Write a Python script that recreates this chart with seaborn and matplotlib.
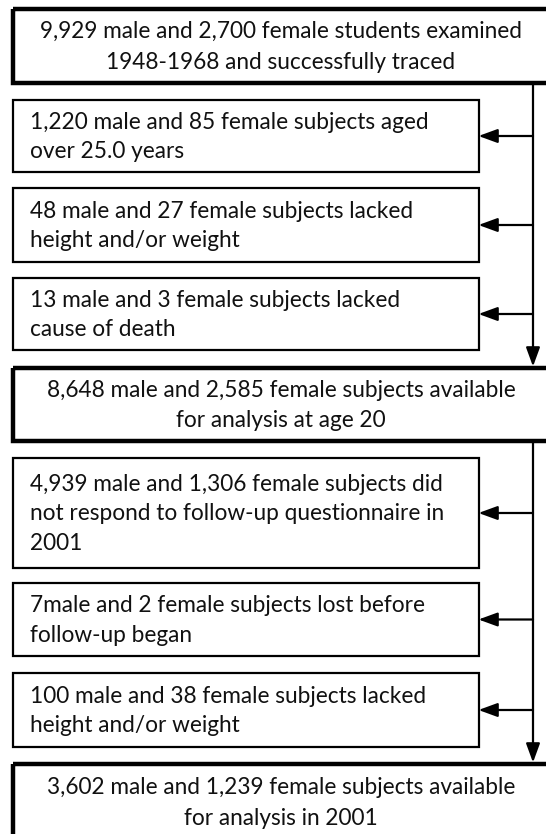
import matplotlib.pyplot as plt
import matplotlib.patches as patches
import seaborn as sns

sns.set_style("white")
plt.rcParams['font.family'] = ['Lato', 'DejaVu Sans']

# flow chart content
main_texts = [
    "9,929 male and 2,700 female students examined\n1948-1968 and successfully traced",
    "8,648 male and 2,585 female subjects available\nfor analysis at age 20",
    "3,602 male and 1,239 female subjects available\nfor analysis in 2001",
]
excl_texts_1 = [
    "1,220 male and 85 female subjects aged\nover 25.0 years",
    "48 male and 27 female subjects lacked\nheight and/or weight",
    "13 male and 3 female subjects lacked\ncause of death",
]
excl_texts_2 = [
    "4,939 male and 1,306 female subjects did\nnot respond to follow-up questionnaire in\n2001",
    "7male and 2 female subjects lost before\nfollow-up began",
    "100 male and 38 female subjects lacked\nheight and/or weight",
]

# layout (pixels, y downward): (top, bottom)
main_rows = [(9, 83), (368, 441), (764, 840)]
excl_rows = [(100, 172), (188, 262), (278, 350), (458, 568), (583, 656), (673, 747)]
box_left, main_right, excl_right, trunk_x = 12.5, 549, 478.5, 533

fig = plt.figure(figsize=(5.46, 8.34), dpi=100)
ax = fig.add_axes([0, 0, 1, 1])
ax.set_xlim(0, 546)
ax.set_ylim(834, 0)
ax.axis('off')

fs = 16.3
head = '-|>,head_length=1.15,head_width=0.42'
for (top, bot), txt in zip(main_rows, main_texts):
    ax.add_patch(patches.Rectangle((box_left, top), main_right - box_left, bot - top,
                                   fill=False, lw=3.2, ec='black'))
    ax.text(281, (top + bot) / 2 + 1, txt, ha='center', va='center', fontsize=fs,
            linespacing=1.58, color='#111111')

for (top, bot), txt in zip(excl_rows, excl_texts_1 + excl_texts_2):
    ax.add_patch(patches.Rectangle((box_left, top), excl_right - box_left, bot - top,
                                   fill=False, lw=1.6, ec='black'))
    mid = (top + bot) / 2
    ax.text(30, mid + 1, txt, ha='left', va='center', fontsize=fs,
            linespacing=1.52, color='#111111')
    ax.annotate('', xy=(excl_right, mid), xytext=(trunk_x, mid),
                arrowprops=dict(arrowstyle=head, lw=1.6, color='black',
                                shrinkA=0, shrinkB=0))

# trunk lines with arrows into the main boxes
for (_, bot1), (top2, _) in zip(main_rows[:-1], main_rows[1:]):
    ax.annotate('', xy=(trunk_x, top2 - 1.5), xytext=(trunk_x, bot1),
                arrowprops=dict(arrowstyle=head, lw=1.6, color='black',
                                shrinkA=0, shrinkB=0))

fig.savefig('out.png', dpi=100, facecolor='white')
